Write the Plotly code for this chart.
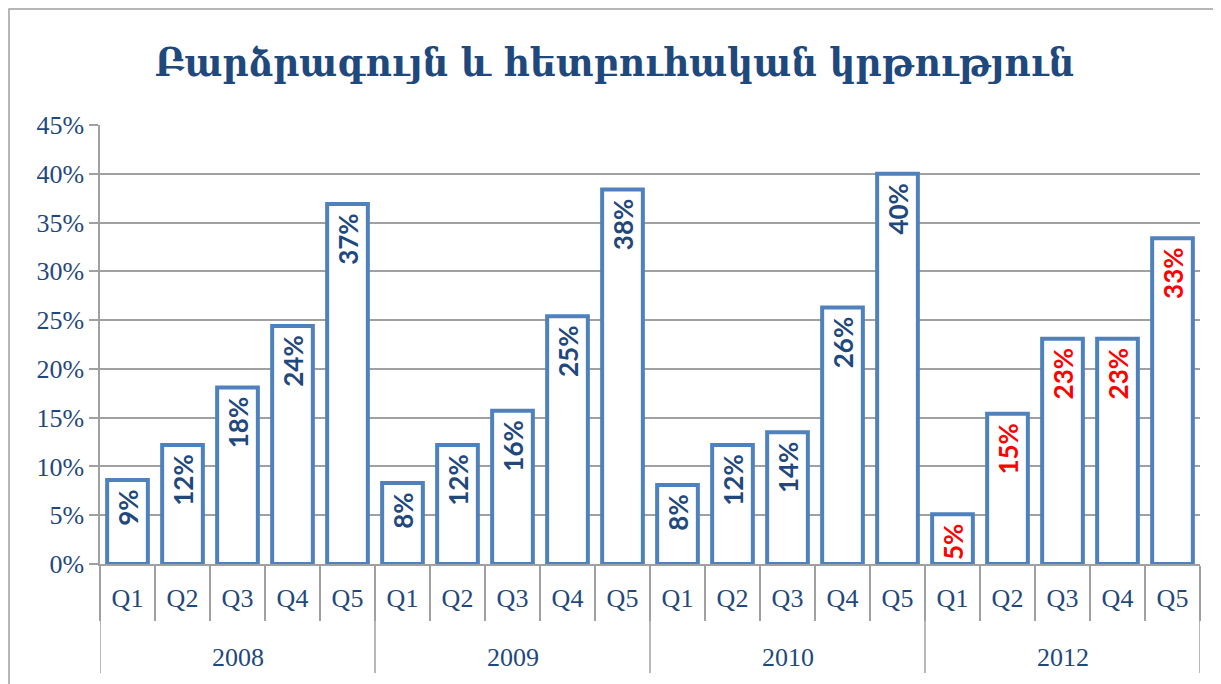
import plotly.graph_objects as go

years = ["2008", "2009", "2010", "2012"]
quarters = ["Q1", "Q2", "Q3", "Q4", "Q5"]
values = {
    "2008": [8.6, 12.2, 18.1, 24.4, 36.9],
    "2009": [8.3, 12.2, 15.7, 25.4, 38.4],
    "2010": [8.1, 12.2, 13.5, 26.3, 40.0],
    "2012": [5.1, 15.4, 23.1, 23.1, 33.4],
}
label_colors = {"2008": "#1F497D", "2009": "#1F497D", "2010": "#1F497D", "2012": "#FF0000"}
title_text = "Բարձրագույն և հետբուհական կրթություն"

BLUE = "#1F497D"
GRID = "#A0A0A0"

cats, qlabels, ys, texts, tcolors = [], [], [], [], []
for y in years:
    for q, v in zip(quarters, values[y]):
        cats.append(f"{y} {q}")
        qlabels.append(q)
        ys.append(v / 100)
        texts.append(f"{int(v + 0.5)}%" + "\u00a0")
        tcolors.append(label_colors[y])

fig = go.Figure(go.Bar(
    x=cats, y=ys,
    text=texts, textposition="inside", insidetextanchor="end", textangle=-90,
    textfont=dict(family="Lato", size=26, color=tcolors, weight="bold"),
    marker=dict(color="white", line=dict(color="#4F81BD", width=4)),
    cliponaxis=False,
))

# page body has an 8px offset; compensate
W, H = 1213, 676
ML, MT, MB, MR = 92, 117, 120, 21
fig.update_layout(
    width=W, height=H,
    margin=dict(l=ML, r=MR, t=MT, b=MB, autoexpand=False),
    paper_bgcolor="white", plot_bgcolor="white",
    bargap=0.26,
    showlegend=False,
    title=dict(text=title_text, x=0.5, xanchor="center", y=1 - 54 / H, yanchor="middle",
               font=dict(family="DejaVu Serif Condensed", size=40, color=BLUE, weight="bold")),
    font=dict(family="Liberation Serif", color=BLUE),
)
fig.update_yaxes(
    range=[0, 0.45], dtick=0.05, tickformat=".0%",
    showgrid=True, gridcolor=GRID, gridwidth=1.5,
    showline=True, linecolor=GRID, linewidth=1.5,
    ticks="outside", ticklen=9, tickcolor=GRID, tickwidth=1.5,
    tickfont=dict(family="Liberation Serif", size=26, color=BLUE),
    zeroline=False,
)
fig.update_xaxes(
    type="category", tickmode="array", tickvals=cats, ticktext=qlabels,
    showline=True, linecolor=GRID, linewidth=1.5,
    ticks="outside", tickson="boundaries", ticklen=55, tickcolor=GRID, tickwidth=1.5,
    ticklabelstandoff=10,
    tickfont=dict(family="Liberation Serif", size=26, color=BLUE),
    range=[-0.5, len(cats) - 0.5],
)

plot_h = H - MT - MB
plot_w = W - ML - MR
n = len(quarters)
for i, y in enumerate(years):
    center = i * n + (n - 1) / 2
    fig.add_annotation(x=center, xref="x", y=-93 / plot_h, yref="paper",
                       text=y, showarrow=False, yanchor="middle",
                       font=dict(family="Liberation Serif", size=26, color=BLUE))
for i in range(len(years) + 1):
    bx = i * n - 0.5
    fig.add_shape(type="line", xref="x", yref="paper", x0=bx, x1=bx,
                  y0=0, y1=-109 / plot_h, line=dict(color=GRID, width=1.5))

# outer chart border (kept inside the svg)
fig.add_shape(type="rect", xref="paper", yref="paper",
              x0=-(ML - 1) / plot_w, x1=1 + (MR - 1) / plot_w,
              y0=-(MB + 20) / plot_h, y1=1 + (MT - 1) / plot_h,
              line=dict(color=GRID, width=1.5), layer="above")

fig.write_html("out.html")
